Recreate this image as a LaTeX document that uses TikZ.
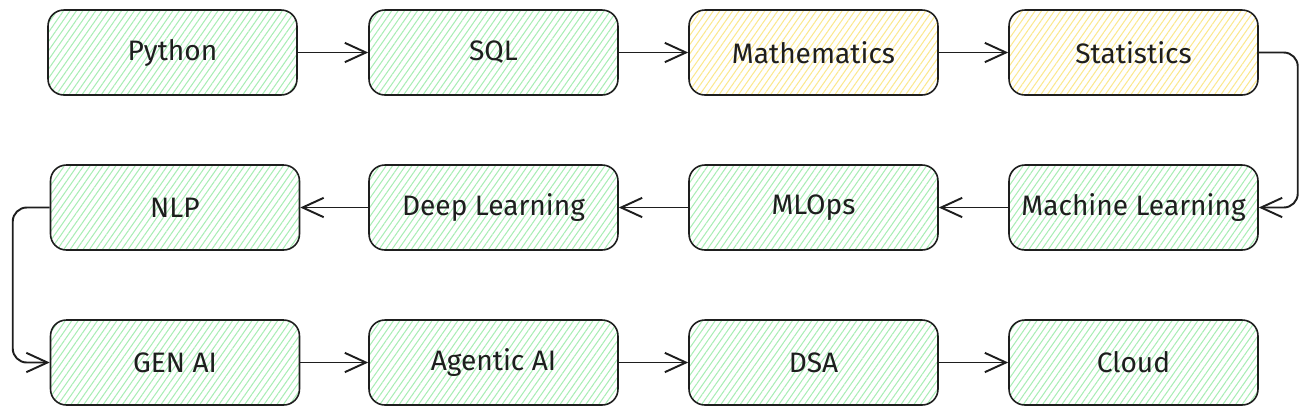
\documentclass[tikz,border=0pt]{standalone}
\usepackage{fontspec}
\setmainfont{Fira Sans}
\usetikzlibrary{arrows.meta,patterns.meta}
\definecolor{ink}{HTML}{1E1E1E}
\definecolor{hatchgreen}{HTML}{A9EDB5}
\definecolor{hatchyellow}{HTML}{FBE88F}
\tikzset{
  topic/.style={draw=ink, line width=0.9pt, rounded corners=9pt,
    minimum width=4.98cm, minimum height=1.7cm, inner sep=0pt,
    font=\fontsize{16}{19}\selectfont, text=ink,
    pattern={Lines[angle=55,distance=3pt,line width=0.6pt]}, pattern color=#1},
  topic/.default=hatchgreen,
  arr/.style={draw=ink, line width=1.1pt, -{Straight Barb[length=12pt,width=11pt,line width=1.1pt]}}
}
\begin{document}
\begin{tikzpicture}[x=0.02cm,y=-0.02cm]

	%%Location
	\useasboundingbox (0,0) rectangle (1308,414);

	%%Row 1
	\node[topic] (python) at (172.5,52.5) {Python};
	\node[topic] (sql) at (493.5,52.5) {SQL};
	\node[topic=hatchyellow] (maths) at (813.5,52.5) {Mathematics};
	\node[topic=hatchyellow] (stats) at (1133.5,52.5) {Statistics};

	%%Row 2
	\node[topic] (nlp) at (175,207.5) {NLP};
	\node[topic] (dl) at (493.5,207.5) {Deep Learning};
	\node[topic] (mlops) at (813.5,207.5) {MLOps};
	\node[topic] (ml) at (1133.5,207.5) {Machine Learning};

	%%Row 3
	\node[topic] (genai) at (175,362.5) {GEN AI};
	\node[topic] (agentic) at (493.5,362.5) {Agentic AI};
	\node[topic] (dsa) at (813.5,362.5) {DSA};
	\node[topic] (cloud) at (1133.5,362.5) {Cloud};

	%%Arrows
	\draw[arr] (python) -- (sql);
	\draw[arr] (sql) -- (maths);
	\draw[arr] (maths) -- (stats);
	\draw[arr, rounded corners=8pt] (stats.east) -- ++(39,0) |- (ml.east);
	\draw[arr] (ml) -- (mlops);
	\draw[arr] (mlops) -- (dl);
	\draw[arr] (dl) -- (nlp);
	\draw[arr, rounded corners=8pt] (nlp.west) -- ++(-37,0) |- (genai.west);
	\draw[arr] (genai) -- (agentic);
	\draw[arr] (agentic) -- (dsa);
	\draw[arr] (dsa) -- (cloud);

\end{tikzpicture}
\end{document}
